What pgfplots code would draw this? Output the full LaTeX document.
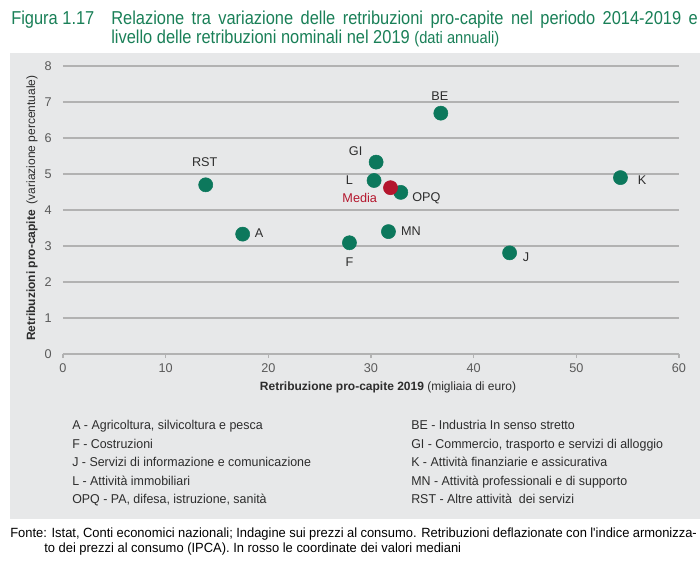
\documentclass[border=0pt]{standalone}
\usepackage{pgfplots}
\pgfplotsset{compat=1.18}
\usepackage{fontspec}
\setmainfont{Liberation Sans}
\newfontfamily\titlefont{Liberation Sans}[FakeStretch=0.88]
\newfontfamily\legfont{Liberation Sans}[FakeStretch=0.97]
\definecolor{bg}{RGB}{231,232,233}
\definecolor{gridc}{RGB}{178,178,178}
\definecolor{dotg}{RGB}{12,120,92}
\definecolor{titleg}{RGB}{26,128,88}
\definecolor{medred}{RGB}{180,22,45}
\definecolor{txt}{RGB}{45,45,45}
\definecolor{tickc}{RGB}{90,90,90}
\begin{document}
\begin{tikzpicture}
\begin{scope}[x=0.75pt,y=-0.75pt]
\useasboundingbox (0,0) rectangle (700,561);
\fill[white] (0,0) rectangle (700,561);
\fill[bg] (10,53) rectangle (700,519);
% title
\node[anchor=base west, inner sep=0, text=titleg, font=\titlefont\fontsize{14}{16}\selectfont] at (11,24) {Figura 1.17};
\node[anchor=base west, inner sep=0, text=titleg, font=\titlefont\fontsize{14}{16}\selectfont] at (111,24) {\makebox[440pt][s]{Relazione tra variazione delle retribuzioni pro-capite nel periodo 2014-2019 e}};
\node[anchor=base west, inner sep=0, text=titleg, font=\titlefont\fontsize{14}{16}\selectfont] at (111,43) {livello delle retribuzioni nominali nel 2019 {\fontsize{12.5}{14}\selectfont(dati annuali)}};
% axis labels
\node[anchor=base, inner sep=0, text=txt, font=\fontsize{9}{11}\selectfont] at (388,390) {\textbf{Retribuzione pro-capite 2019} (migliaia di euro)};
\node[anchor=base, inner sep=0, rotate=90, text=txt, font=\fontsize{9}{11}\selectfont] at (35,208) {\textbf{Retribuzioni pro-capite}\enspace(variazione percentuale)};
% legend
\begin{scope}[every node/.style={anchor=base west, inner sep=0, text=txt, font=\legfont\fontsize{9.6}{11}\selectfont}]
\node at (72,429) {A - Agricoltura, silvicoltura e pesca};
\node at (72,448) {F - Costruzioni};
\node at (72,466) {J - Servizi di informazione e comunicazione};
\node at (72,485) {L - Attivit\`a immobiliari};
\node at (72,503) {OPQ - PA, difesa, istruzione, sanit\`a};
\node at (411,429) {BE - Industria In senso stretto};
\node at (411,448) {GI - Commercio, trasporto e servizi di alloggio};
\node at (411,466) {K - Attivit\`a finanziarie e assicurativa};
\node at (411,485) {MN - Attivit\`a professionali e di supporto};
\node at (411,503) {RST - Altre attivit\`a\ \ dei servizi};
\end{scope}
% footnote
\node[anchor=base west, inner sep=0, text=black, font=\legfont\fontsize{10}{12}\selectfont] at (10,537) {\makebox[515pt][s]{Fonte: Istat, Conti economici nazionali; Indagine sui prezzi al consumo. Retribuzioni deflazionate con l'indice armonizza-}};
\node[anchor=base west, inner sep=0, text=black, font=\legfont\fontsize{10}{12}\selectfont] at (44,552) {to dei prezzi al consumo (IPCA). In rosso le coordinate dei valori mediani};
\end{scope}
\begin{axis}[
  at={(47.25pt,-265.5pt)}, anchor=south west,
  scale only axis, width=462pt, height=216pt,
  xmin=0, xmax=60, ymin=0, ymax=8,
  xtick={0,10,...,60}, ytick={0,1,...,8},
  axis x line*=bottom, axis y line*=left,
  axis line style={draw=none},
  ymajorgrids, grid style={gridc, line width=0.8pt},
  xtick style={draw=gridc, line width=0.8pt}, ytick style={draw=none},
  tick align=outside, major tick length=3pt,
  tick label style={font=\fontsize{9.5}{11}\selectfont, text=tickc},
  /pgf/number format/assume math mode=true,
  xticklabel style={yshift=-1pt},
  yticklabel style={xshift=-2pt},
  clip=false,
]
\addplot[only marks, mark=*, mark size=5.3pt, mark options={draw=dotg, fill=dotg}] coordinates {
(13.9,4.70) (17.5,3.33) (27.9,3.09) (31.7,3.40) (43.5,2.81) (54.3,4.90) (36.8,6.69) (30.5,5.33) (30.3,4.82) (32.9,4.49)
};
\addplot[only marks, mark=*, mark size=5.3pt, mark options={draw=medred, fill=medred}] coordinates {(31.9,4.62)};
\begin{scope}[every node/.style={text=txt, font=\fontsize{9.5}{11}\selectfont}]
\node at (axis cs:13.8,5.33) {RST};
\node at (axis cs:19.1,3.36) {A};
\node at (axis cs:27.9,2.56) {F};
\node at (axis cs:33.9,3.42) {MN};
\node at (axis cs:45.1,2.69) {J};
\node at (axis cs:56.4,4.83) {K};
\node at (axis cs:36.7,7.17) {BE};
\node at (axis cs:28.5,5.64) {GI};
\node at (axis cs:27.9,4.83) {L};
\node at (axis cs:35.4,4.33) {OPQ};
\end{scope}
\node[text=medred, font=\fontsize{9.5}{11}\selectfont] at (axis cs:28.9,4.33) {Media};
\end{axis}
\end{tikzpicture}
\end{document}
